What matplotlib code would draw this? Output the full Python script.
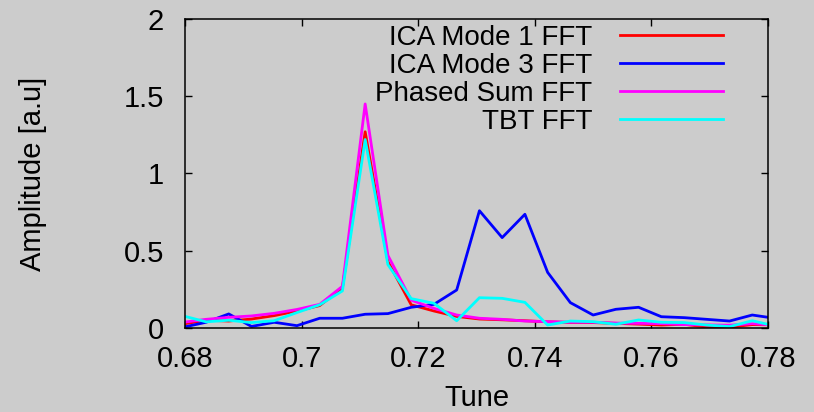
# fft_tune_spectrum.py
# FFT amplitude around the tune peak for ICA modes, phased sum and TBT data.

import matplotlib.pyplot as plt
from matplotlib.ticker import FormatStrFormatter

plt.rcParams['font.family'] = ['Liberation Sans', 'DejaVu Sans']

# FFT bins (tune) and amplitudes
tune = [0.6797, 0.6836, 0.6875, 0.6914, 0.6953, 0.6992, 0.7031, 0.7070, 0.7109,
        0.7148, 0.7188, 0.7227, 0.7266, 0.7305, 0.7344, 0.7383, 0.7422, 0.7461,
        0.7500, 0.7539, 0.7578, 0.7617, 0.7656, 0.7695, 0.7734, 0.7773, 0.7813]

ica_mode1 = [0.026, 0.050, 0.045, 0.058, 0.080, 0.110, 0.145, 0.260, 1.270,
             0.430, 0.150, 0.110, 0.075, 0.058, 0.053, 0.047, 0.040, 0.036,
             0.035, 0.030, 0.025, 0.019, 0.024, 0.006, 0.005, 0.022, 0.020]

ica_mode3 = [0.005, 0.037, 0.091, 0.010, 0.037, 0.015, 0.063, 0.063, 0.089,
             0.093, 0.134, 0.153, 0.246, 0.759, 0.585, 0.736, 0.360, 0.164,
             0.084, 0.121, 0.134, 0.073, 0.067, 0.056, 0.045, 0.084, 0.062]

phased_sum = [0.037, 0.056, 0.069, 0.078, 0.095, 0.120, 0.153, 0.270, 1.450,
              0.470, 0.180, 0.127, 0.084, 0.063, 0.056, 0.045, 0.041, 0.037,
              0.037, 0.032, 0.030, 0.028, 0.022, 0.020, 0.018, 0.028, 0.018]

tbt = [0.078, 0.040, 0.050, 0.035, 0.047, 0.100, 0.150, 0.240, 1.220,
       0.410, 0.190, 0.160, 0.047, 0.196, 0.192, 0.166, 0.019, 0.045,
       0.041, 0.024, 0.052, 0.037, 0.035, 0.019, 0.009, 0.047, 0.012]

labels = ["ICA Mode 1 FFT", "ICA Mode 3 FFT", "Phased Sum FFT", "TBT FFT"]
colors = ["#ff0000", "#0000ff", "#ff00ff", "#00ffff"]

bg = "#cccccc"
fig = plt.figure(figsize=(8.14, 4.12), dpi=100, facecolor=bg)
ax = fig.add_axes([0.2273, 0.2039, 0.7162, 0.75])
ax.set_facecolor(bg)

for series, lab, col in zip([ica_mode1, ica_mode3, phased_sum, tbt], labels, colors):
    ax.plot(tune, series, color=col, lw=2, label=lab)

ax.set_xlim(0.68, 0.78)
ax.set_ylim(0, 2)
ax.set_xticks([0.68, 0.70, 0.72, 0.74, 0.76, 0.78])
ax.set_yticks([0, 0.5, 1, 1.5, 2])
ax.xaxis.set_major_formatter(FormatStrFormatter('%g'))
ax.yaxis.set_major_formatter(FormatStrFormatter('%g'))
ax.tick_params(direction='in', length=5, width=1, top=True, right=True,
               labelsize=21)
ax.tick_params(axis='x', pad=12)
ax.tick_params(axis='y', pad=15)
for s in ax.spines.values():
    s.set_linewidth(1.1)

ax.set_xlabel("Tune", fontsize=21, labelpad=8)
ax.set_ylabel("Amplitude [a.u]", fontsize=21, labelpad=55)

ax.legend(loc='upper right', bbox_to_anchor=(0.923, 0.98), frameon=False,
          markerfirst=False, fontsize=20, handlelength=3.7, handletextpad=1.0,
          labelspacing=0.07, borderpad=0, borderaxespad=0)

plt.savefig("out.png", dpi=100, facecolor=bg)
plt.close()
